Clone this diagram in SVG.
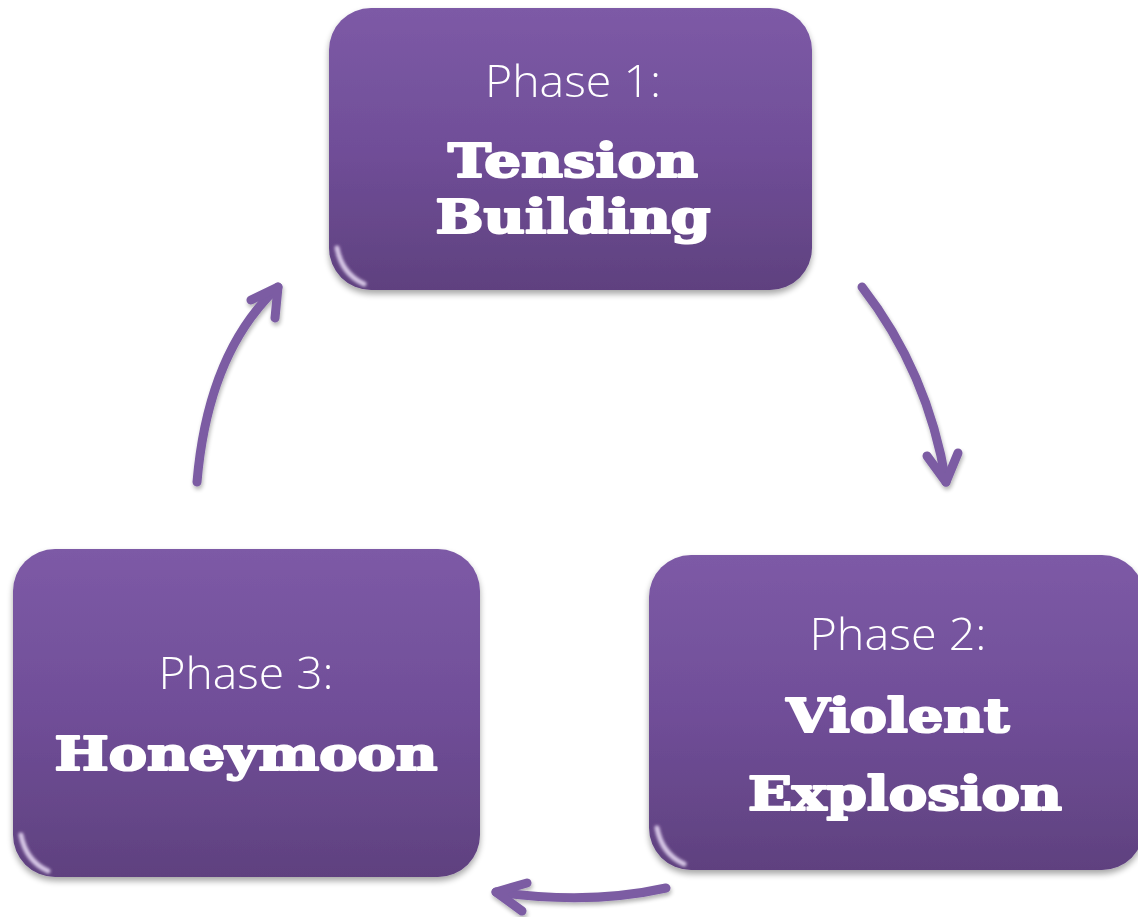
<svg xmlns="http://www.w3.org/2000/svg" width="1138" height="917" viewBox="0 0 1138 917">
<defs>
<linearGradient id="boxFill" x1="0" y1="0" x2="0" y2="1">
<stop offset="0" stop-color="#7d5aa6"/>
<stop offset="0.5" stop-color="#704e98"/>
<stop offset="1" stop-color="#5f417f"/>
</linearGradient>
<linearGradient id="topGlow" x1="0" y1="0" x2="1" y2="0">
<stop offset="0" stop-color="#d9beff" stop-opacity="0"/>
<stop offset="0.08" stop-color="#d9beff" stop-opacity="0.85"/>
<stop offset="0.92" stop-color="#d9beff" stop-opacity="0.85"/>
<stop offset="1" stop-color="#d9beff" stop-opacity="0"/>
</linearGradient>
<filter id="shadow" x="-10%" y="-10%" width="120%" height="125%">
<feGaussianBlur in="SourceAlpha" stdDeviation="3"/>
<feOffset dx="0" dy="4"/>
<feComponentTransfer><feFuncA type="linear" slope="0.35"/></feComponentTransfer>
<feMerge><feMergeNode/><feMergeNode in="SourceGraphic"/></feMerge>
</filter>
<filter id="soft" x="-50%" y="-50%" width="200%" height="200%">
<feGaussianBlur stdDeviation="1.5"/>
</filter>
<filter id="ashadow" x="-20%" y="-20%" width="140%" height="140%">
<feGaussianBlur in="SourceAlpha" stdDeviation="2"/>
<feOffset dx="1" dy="3"/>
<feComponentTransfer><feFuncA type="linear" slope="0.3"/></feComponentTransfer>
<feMerge><feMergeNode/><feMergeNode in="SourceGraphic"/></feMerge>
</filter>
</defs>
<style>
.box{fill:url(#boxFill);}
.glow{fill:none;stroke:url(#topGlow);stroke-width:3;}
.corner{fill:none;stroke:#f4e8ff;stroke-width:5;stroke-linecap:round;opacity:0.8;}
.phase{font-family:"Open Sans","Liberation Sans",sans-serif;font-weight:300;font-size:45px;fill:#ffffff;text-anchor:middle;}
.title{font-family:"DejaVu Serif","Liberation Serif",serif;font-weight:bold;font-size:46px;fill:#ffffff;stroke:#ffffff;stroke-width:2.2;stroke-linejoin:round;text-anchor:middle;}
.arrow{fill:none;stroke:#7b5ca3;stroke-width:9;stroke-linecap:round;stroke-linejoin:round;}
</style>

<g id="connectors" filter="url(#ashadow)">
<path class="arrow" d="M862,287 Q928,372 946,482"/>
<path class="arrow" d="M927,456 L946,482 L958,453"/>
<path class="arrow" d="M666,888 Q590,905 496,892"/>
<path class="arrow" d="M527,883 L496,892 L522,911"/>
<path class="arrow" d="M197,482 Q208,352 278,287"/>
<path class="arrow" d="M251,300 L278,287 L275,318"/>
</g>

<g id="node-phase1" filter="url(#shadow)">
<rect class="box" x="329" y="8" width="483" height="282" rx="42"/>
<path class="glow" d="M360,13 L782,13" filter="url(#soft)"/>
<path class="corner" d="M337,248 Q342,274 364,284" filter="url(#soft)"/>
<text class="phase" x="573" y="97" textLength="176" lengthAdjust="spacingAndGlyphs">Phase 1:</text>
<text class="title" x="573" y="177" textLength="250" lengthAdjust="spacingAndGlyphs">Tension</text>
<text class="title" x="573" y="233" textLength="275" lengthAdjust="spacingAndGlyphs">Building</text>
</g>

<g id="node-phase2" filter="url(#shadow)">
<rect class="box" x="649" y="555" width="495" height="315" rx="42"/>
<path class="glow" d="M680,560 L1110,560" filter="url(#soft)"/>
<path class="corner" d="M657,828 Q662,854 684,864" filter="url(#soft)"/>
<text class="phase" x="898" y="650" textLength="177" lengthAdjust="spacingAndGlyphs">Phase 2:</text>
<text class="title" x="898" y="732" textLength="223" lengthAdjust="spacingAndGlyphs">Violent</text>
<text class="title" x="905" y="810" textLength="314" lengthAdjust="spacingAndGlyphs">Explosion</text>
</g>

<g id="node-phase3" filter="url(#shadow)">
<rect class="box" x="13" y="549" width="467" height="328" rx="42"/>
<path class="glow" d="M44,554 L449,554" filter="url(#soft)"/>
<path class="corner" d="M21,835 Q26,861 48,871" filter="url(#soft)"/>
<text class="phase" x="246" y="689" textLength="175" lengthAdjust="spacingAndGlyphs">Phase 3:</text>
<text class="title" x="246" y="770" textLength="383" lengthAdjust="spacingAndGlyphs">Honeymoon</text>
</g>
</svg>
